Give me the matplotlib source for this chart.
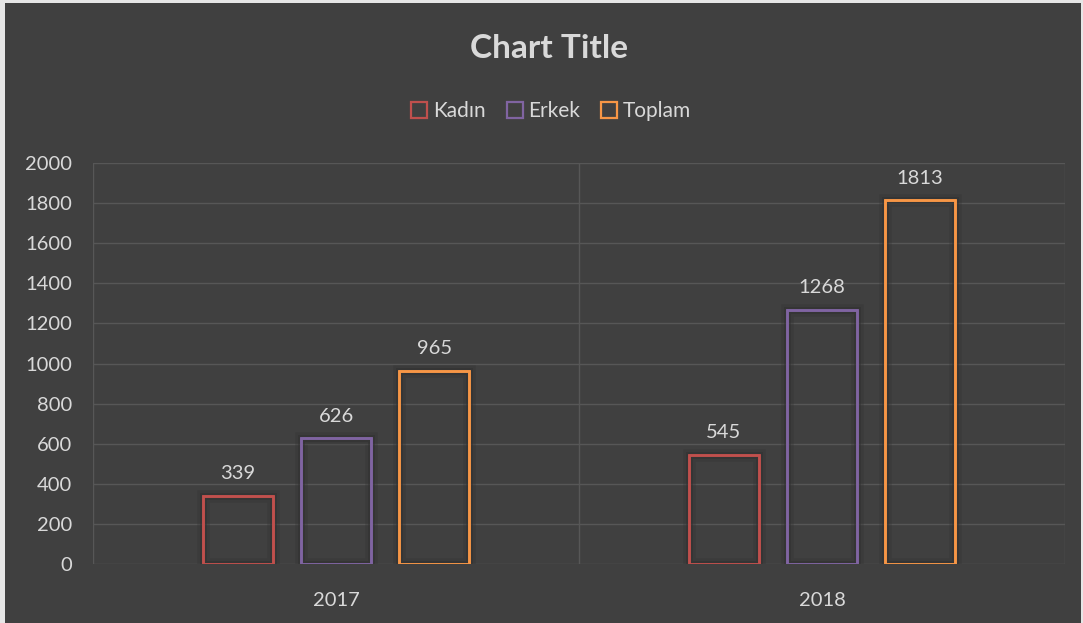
import numpy as np
import matplotlib
matplotlib.use("Agg")
import matplotlib.pyplot as plt
from matplotlib.patches import Rectangle
from matplotlib.lines import Line2D
import matplotlib.patheffects as pe

plt.rcParams["font.family"] = ["Lato", "DejaVu Sans"]

categories = ["2017", "2018"]
series = ["Kadın", "Erkek", "Toplam"]
kadin = [339, 545]
erkek = [626, 1268]
toplam = [965, 1813]
values = [kadin, erkek, toplam]
colors = ["#c0504d", "#8064a2", "#f79646"]

BG = "#404040"
TXT = "#d9d9d9"
GRID = "#575757"
FRAME = "#e6e6e6"

W, H = 1083, 623
fig = plt.figure(figsize=(W / 100, H / 100), dpi=100, facecolor=BG)
# thin light frame at left / top / right edges like the screenshot
for r in [(0, 0, 5 / W, 1), (0, 1 - 3 / H, 1, 3 / H), (1 - 2 / W, 0, 2 / W, 1)]:
    fig.patches.append(Rectangle(r[:2], r[2], r[3], transform=fig.transFigure,
                                 facecolor=FRAME, edgecolor="none", zorder=-5))

ax = fig.add_axes([93 / W, 1 - 564 / H, (1065 - 93) / W, (564 - 163) / H])
ax.set_facecolor("none")

x = np.arange(len(categories))
width = 0.145
offsets = [-0.202, 0.0, 0.202]
# soft dark glow around the outlines
glow = [pe.withStroke(linewidth=9, foreground="#333333", alpha=0.35),
        pe.withStroke(linewidth=5, foreground="#303030", alpha=0.5),
        pe.Normal()]

for vals, col, off, name in zip(values, colors, offsets, series):
    bars = ax.bar(x + off, vals, width, facecolor="none", edgecolor=col,
                  linewidth=1.8, zorder=3, label=name)
    for b in bars:
        b.set_path_effects(glow)
    for xi, v in zip(x + off, vals):
        ax.annotate(str(v), (xi, v), xytext=(0, 10), textcoords="offset points",
                    ha="center", va="bottom", color=TXT, fontsize=14.5)

ax.set_xlim(-0.5, 1.5)
ax.set_ylim(0, 2000)
ax.set_yticks(np.arange(0, 2001, 200))
ax.set_xticks(x)
ax.set_xticklabels(categories)
ax.yaxis.grid(True, color=GRID, linewidth=1.0, zorder=1)
for xv in [-0.5, 0.5, 1.5]:
    ax.axvline(xv, color=GRID, linewidth=1.0, zorder=1)
for s in ax.spines.values():
    s.set_visible(False)
ax.tick_params(length=0, colors=TXT, labelsize=14.5)
ax.tick_params(axis="y", pad=15)
ax.tick_params(axis="x", pad=20)

fig.text(549 / W, 1 - 48 / H, "Chart Title", ha="center", va="center",
         color=TXT, fontsize=24, fontweight="bold")

handles = [Line2D([0], [0], marker="s", linestyle="none", markersize=11,
                  markerfacecolor="none", markeredgecolor=c, markeredgewidth=1.6,
                  label=n) for c, n in zip(colors, series)]
fig.legend(handles=handles, loc="center", bbox_to_anchor=(550 / W, 1 - 111 / H),
           ncol=3, frameon=False, fontsize=15, labelcolor=TXT,
           handletextpad=0.15, columnspacing=0.9, handlelength=1.0)

fig.savefig("out.png", dpi=100, facecolor=fig.get_facecolor())
